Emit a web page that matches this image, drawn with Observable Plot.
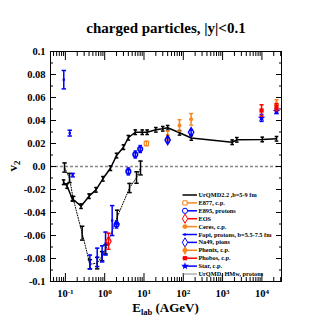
<!DOCTYPE html>
<html><head><meta charset="utf-8">
<script src="https://cdn.jsdelivr.net/npm/d3@7"></script>
<script src="https://cdn.jsdelivr.net/npm/@observablehq/plot@0.6"></script>
<style>body{margin:0;background:#fff} svg{display:block}</style>
</head><body><div id="chart"></div>
<script>
// ---------- data ----------
const urqmdE   = [0.09,0.11,0.15,0.25,0.4,0.6,0.9,1.4,2,3,4,6,9,12,20,30,40,80,160,1750,2300,10200,23500];
const urqmdV   = [-0.0137,-0.017,-0.028,-0.0345,-0.0258,-0.0203,-0.0107,-0.0015,0.0095,0.0168,0.025,0.0298,0.0298,0.0298,0.0319,0.0328,0.0337,0.0293,0.0248,0.0211,0.0232,0.0235,0.0241];
const urqmdErr = [0.002,0.002,0.002,0.002,0.002,0.002,0.002,0.002,0.002,0.002,0.002,0.002,0.002,0.002,0.002,0.002,0.002,0.002,0.002,0.002,0.002,0.002,0.002];

const hmwE   = [0.095,0.127,0.158,0.267,0.42,0.645,0.86,1.05,2.08,4.28,6.45,8.15];
const hmwV   = [-0.0009,-0.010,-0.028,-0.058,-0.085,-0.084,-0.078,-0.072,-0.044,-0.0187,-0.0096,-0.0013];
const hmwErr = [0.004,0.004,0.002,0.006,0.004,0.005,0.004,0.004,0.006,0.004,0.005,0.006];

const fopiE   = [0.091,0.129,0.153,0.42,0.645,0.86,1.05,1.55];
const fopiV   = [0.0755,0.029,-0.0075,-0.083,-0.079,-0.076,-0.067,-0.047];
const fopiErr = [0.008,0.0025,0.0015,0.006,0.008,0.007,0.010,0.013];

const e895E = [2,4,6,8], e895V = [-0.0505,-0.0043,0.0104,0.0152], e895Err = [0.003,0.003,0.003,0.003];
const eosE = [1.25], eosV = [-0.065], eosErr = [0.007];
const e877E = [11.5], e877V = [0.020], e877Err = [0.002];
const ceresE = [40,80,158], ceresV = [0.0268,0.0357,0.041], ceresErr = [0.004,0.005,0.005];
const na49E = [40,158], na49V = [0.023,0.0298], na49Err = [0.002,0.002];
const phenixE = [23500], phenixV = [0.054], phenixErr = [0.004];
const phobosE = [9800,23500], phobosV = [0.0487,0.0516], phobosErr = [0.005,0.003];
const starE = [9800,23500], starV = [0.0422,0.048], starErr = [0.003,0.002];

const yMajor = [-0.1,-0.08,-0.06,-0.04,-0.02,0,0.02,0.04,0.06,0.08,0.1];
const yTickLabels = ["-0.1","-0.08","-0.06","-0.04","-0.02","0.0","0.02","0.04","0.06","0.08","0.1"];
const yMinor = [-0.09,-0.07,-0.05,-0.03,-0.01,0.01,0.03,0.05,0.07,0.09];
const xMajor = [0.1,1,10,100,1000,10000];
const xTickLabels = ["10^-1","10^0","10^1","10^2","10^3","10^4"];
const xMinor = [];
[0.01,0.1,1,10,100,1000,10000].forEach(p => [2,3,4,5,6,7,8,9].forEach(k => { const v = k*p; if (v > 0.0418 && v < 31500) xMinor.push(v); }));

const titleText = "charged particles, |y|<0.1";
const legendLabels = ["UrQMD2.2 ,b=5-9 fm","E877, c.p.","E895, protons","EOS","Ceres, c.p.","Fopi, protons, b=5.5-7.5 fm","Na49, pions","Phenix, c.p.","Phobos, c.p.","Star, c.p.","UrQMD, HMw, protons"];

// ---------- styling ----------
const ORANGE = "#f7871e", BLUE = "#0000ff", RED = "#ff0000";
const legendColors = ["#000",ORANGE,BLUE,RED,ORANGE,BLUE,BLUE,ORANGE,RED,BLUE,"#888"];
const legendSymbols = [null,"square","circle","diamond","circle","square","diamond","diamond","square","star",null];
const legendFilled = [false,false,false,false,true,true,false,true,true,true,false];
const legendR = [0,2.4,2.6,2.8,2.4,1.2,2.8,2.8,2.4,2.4,0];
const FONT = "'Liberation Serif','Times New Roman',serif";

const rows = (E,V,Err) => E.map((e,i) => ({E:e, v:V[i], err:Err[i]}));
const urqmd = rows(urqmdE,urqmdV,urqmdErr), hmw = rows(hmwE,hmwV,hmwErr), fopi = rows(fopiE,fopiV,fopiErr);
const e895 = rows(e895E,e895V,e895Err), eos = rows(eosE,eosV,eosErr), e877 = rows(e877E,e877V,e877Err);
const ceres = rows(ceresE,ceresV,ceresErr), na49 = rows(na49E,na49V,na49Err);
const phenix = rows(phenixE,phenixV,phenixErr), phobos = rows(phobosE,phobosV,phobosErr), star = rows(starE,starV,starErr);

const cap = {draw(c,s){const h=Math.sqrt(s/Math.PI); c.moveTo(-h,0); c.lineTo(h,0);}};
function errMarks(data, color, w=1.5, r=2){
  return [
    Plot.ruleX(data,{x:"E",y1:d=>d.v-d.err,y2:d=>d.v+d.err,stroke:color,strokeWidth:w}),
    Plot.dot(data,{x:"E",y:d=>d.v-d.err,symbol:cap,r,stroke:color,strokeWidth:w,fill:"none"}),
    Plot.dot(data,{x:"E",y:d=>d.v+d.err,symbol:cap,r,stroke:color,strokeWidth:w,fill:"none"})
  ];
}
const blank = () => "";

const svg = Plot.plot({
  width:332, height:332,
  marginLeft:50, marginRight:51, marginTop:51, marginBottom:51,
  x:{type:"log", domain:[0.0418,31500], label:null},
  y:{domain:[-0.1,0.1], label:null},
  style:{fontFamily:FONT, fontWeight:"bold", fontSize:"10.5px", background:"#fff", color:"#000"},
  marks:[
    Plot.ruleY([0],{stroke:"#888",strokeDasharray:"3,2",strokeWidth:1.5}),
    // axes ticks (inward)
    Plot.axisY(yMajor,{anchor:"left",tickSize:-6,tickFormat:blank,label:null}),
    Plot.axisY(yMinor,{anchor:"left",tickSize:-3,tickFormat:blank,label:null}),
    Plot.axisY(yMajor,{anchor:"right",tickSize:-6,tickFormat:blank,label:null}),
    Plot.axisY(yMinor,{anchor:"right",tickSize:-3,tickFormat:blank,label:null}),
    Plot.axisX(xMajor,{anchor:"bottom",tickSize:-8,tickFormat:blank,label:null}),
    Plot.axisX(xMinor,{anchor:"bottom",tickSize:-4,tickFormat:blank,label:null}),
    Plot.axisX(xMajor,{anchor:"top",tickSize:-8,tickFormat:blank,label:null}),
    Plot.axisX(xMinor,{anchor:"top",tickSize:-4,tickFormat:blank,label:null}),
    Plot.axisY(yMajor,{anchor:"left",tickSize:0,tickPadding:5,tickFormat:d=>yTickLabels[yMajor.indexOf(d)],label:null,fontWeight:"bold"}),
    Plot.axisX(xMajor,{anchor:"bottom",tickSize:0,tickPadding:8,tickFormat:d=>xTickLabels[xMajor.indexOf(d)],label:null,fontWeight:"bold"}),
    Plot.frame({stroke:"#000",strokeWidth:1}),
    // UrQMD lines
    Plot.line(hmw,{x:"E",y:"v",stroke:"#000",strokeWidth:1,strokeDasharray:"1,1.6"}),
    Plot.line(urqmd,{x:"E",y:"v",stroke:"#000",strokeWidth:1.5}),
    ...errMarks(urqmd,"#000",1.5,1.8),
    ...errMarks(hmw,"#000",1.5,2.2),
    // data
    ...errMarks(fopi,BLUE,1.5,2.2),
    Plot.dot(fopi,{x:"E",y:"v",symbol:"square",r:1.3,fill:BLUE}),
    ...errMarks(eos,RED,1.5,2),
    Plot.dot(eos,{x:"E",y:"v",symbol:"diamond",r:2.8,stroke:RED,strokeWidth:1.2,fill:"none"}),
    ...errMarks(e895,BLUE,1.5,1.8),
    Plot.dot(e895,{x:"E",y:"v",symbol:"circle",r:2.3,stroke:BLUE,strokeWidth:1.6,fill:"none"}),
    Plot.dot(e877,{x:"E",y:"v",symbol:"square",r:2.4,stroke:ORANGE,strokeWidth:1.2,fill:"none"}),
    ...errMarks(e877,ORANGE,1.2,1.5),
    ...errMarks(ceres,ORANGE,1.5,2),
    Plot.dot(ceres,{x:"E",y:"v",symbol:"circle",r:2,fill:ORANGE}),
    ...errMarks(na49,BLUE,1.5,1.8),
    Plot.dot(na49,{x:"E",y:"v",symbol:"diamond",r:2.8,stroke:BLUE,strokeWidth:1.4,fill:"none"}),
    ...errMarks(phenix,ORANGE,1.5,2),
    Plot.dot(phenix,{x:"E",y:"v",symbol:"diamond",r:2.6,fill:ORANGE}),
    ...errMarks(star,BLUE,1.5,2),
    Plot.dot(star,{x:"E",y:"v",symbol:"star",r:2.4,fill:BLUE}),
    ...errMarks(phobos,RED,1.5,2),
    Plot.dot(phobos,{x:"E",y:"v",symbol:"square",r:2.4,fill:RED})
  ]
});

const s = d3.select(svg);
// superscripted x tick labels
s.selectAll('g[aria-label="x-axis tick label"] text').each(function(){
  const t = this.textContent; if (!t.includes("^")) return;
  const [b,e] = t.split("^");
  this.textContent = "";
  d3.select(this).append("tspan").text(b);
  d3.select(this).append("tspan").attr("dy","-0.45em").attr("font-size","0.68em").text(e);
});
// title
s.append("text").attr("x",166).attr("y",33).attr("text-anchor","middle")
  .attr("font-family",FONT).attr("font-weight","bold").attr("font-size",15).text(titleText);
// y label
const yl = s.append("text").attr("transform","translate(17,166) rotate(-90)").attr("text-anchor","middle")
  .attr("font-family",FONT).attr("font-weight","bold").attr("font-size",13);
yl.append("tspan").text("v");
yl.append("tspan").attr("dy",3).attr("font-size",9).text("2");
// x label
const xl = s.append("text").attr("x",165.5).attr("y",312).attr("text-anchor","middle")
  .attr("font-family",FONT).attr("font-weight","bold").attr("font-size",13);
xl.append("tspan").text("E");
xl.append("tspan").attr("dy",3).attr("font-size",8.5).text("lab");
xl.append("tspan").attr("dy",-3).text(" (AGeV)");
// legend
const lg = s.append("g").attr("font-family",FONT).attr("font-weight","bold").attr("font-size",6.3).attr("text-anchor","start");
legendLabels.forEach((lab,i) => {
  const y = 195 + i*7.9;
  lg.append("line").attr("x1",182.5).attr("x2",197).attr("y1",y).attr("y2",y)
    .attr("stroke",legendColors[i]).attr("stroke-width",i===10?1:1.5);
  if (legendSymbols[i]) {
    const typ = {square:d3.symbolSquare,circle:d3.symbolCircle,diamond:d3.symbolDiamond,star:d3.symbolStar}[legendSymbols[i]];
    const r = legendR[i];
    const p = lg.append("path").attr("transform",`translate(185,${y})`)
      .attr("d",d3.symbol(typ, r*r*Math.PI)());
    if (legendFilled[i]) p.attr("fill",legendColors[i]);
    else p.attr("fill","#fff").attr("stroke",legendColors[i]).attr("stroke-width",1);
  }
  lg.append("text").attr("x",198.5).attr("y",y+2).attr("text-anchor","start").text(lab);
});
document.getElementById("chart").appendChild(svg);
</script></body></html>
